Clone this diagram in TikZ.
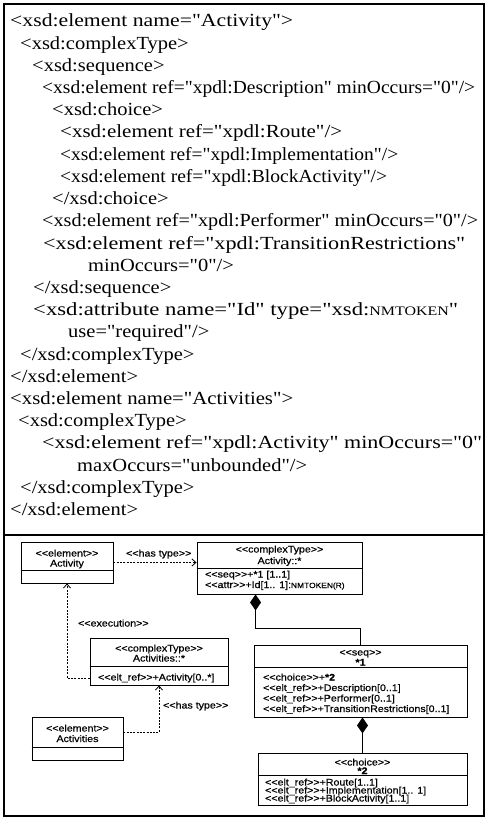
\documentclass[tikz,border=0pt]{standalone}
\usepackage{fontspec}
\usepackage{graphicx}
\usetikzlibrary{arrows.meta,calc}
\newfontfamily\codefont{Liberation Serif}[FakeStretch=1.108]
\newfontfamily\umlfont{Liberation Sans}[FakeStretch=1.12,FakeBold=0.6]
% stereotype brackets kept as two separate angle signs
\newcommand\gopen{<\kern0pt<}
\newcommand\gclose{>\kern0pt>}
\newcommand\nmtk{\fontsize{13}{13}\selectfont}
\newlength\codewd
% one line of the schema listing: name, left x, row, text
\newcommand\codeline[4]{%
  \node[codetext] (#1) at (#2,{27+22.2*(#3-1)}) {#4};}
% same, stretched so that the line ends at a given x
\newcommand\codefit[5]{%
  \node[codetext] (#1) at (#2,{27+22.2*(#3-1)})
    {\settowidth\codewd{#5}%
     \pgfmathsetmacro\codesx{(#4-#2)/\codewd}%
     \scalebox{\codesx}[1]{#5}};}

\tikzset{
  codetext/.style={anchor=base west, inner sep=0pt,
    font=\codefont\fontsize{18.5}{22}\selectfont},
  umlbox/.style={draw, line width=0.9pt, fill=white, inner sep=0pt},
  umlline/.style={line width=0.9pt},
  umltxt/.style={inner sep=0pt, font=\umlfont\fontsize{9.5}{10}\selectfont},
  dep/.style={line width=0.8pt, dash pattern=on 2pt off 1.3pt,
    -{Straight Barb[length=4pt,width=7pt]}},
  comp/.style={line width=1pt, -{Diamond[length=16pt,width=11pt]}},
}

\begin{document}
\begin{tikzpicture}[x=1pt,y=-1pt]
\useasboundingbox (0,0) rectangle (487,818);
\fill[white] (0,0) rectangle (487,818);

% outer frame and separator
\draw[line width=1.3pt] (4,4) rectangle (484,816);
\draw[line width=1.3pt] (4,535) -- (484,535);

% ---------- schema listing ----------
\codefit{l1}{10}{1}{293}{<xsd:element name="Activity">}
\codeline{l2}{20}{2}{<xsd:complexType>}
\codeline{l3}{32}{3}{<xsd:sequence>}
\codefit{l4}{42}{4}{475}{<xsd:element ref="xpdl:Description" minOccurs="0"/>}
\codeline{l5}{52}{5}{<xsd:choice>}
\codefit{l6}{60}{6}{342}{<xsd:element ref="xpdl:Route"/>}
\codefit{l7}{60}{7}{398}{<xsd:element ref="xpdl:Implementation"/>}
\codefit{l8}{60}{8}{387}{<xsd:element ref="xpdl:BlockActivity"/>}
\codeline{l9}{52}{9}{</xsd:choice>}
\codefit{l10}{42}{10}{478}{<xsd:element ref="xpdl:Performer" minOccurs="0"/>}
\codefit{l11}{43}{11}{465}{<xsd:element ref="xpdl:TransitionRestrictions"}
\codeline{l12}{88}{12}{minOccurs="0"/>}
\codeline{l13}{33}{13}{</xsd:sequence>}
\codefit{l14}{33}{14}{458}{<xsd:attribute name="Id" type="xsd:{\nmtk NMTOKEN}"}
\codeline{l15}{68}{15}{use="required"/>}
\codeline{l16}{20}{16}{</xsd:complexType>}
\codeline{l17}{10}{17}{</xsd:element>}
\codefit{l18}{10}{18}{293}{<xsd:element name="Activities">}
\codeline{l19}{18}{19}{<xsd:complexType>}
\codefit{l20}{42}{20}{482}{<xsd:element ref="xpdl:Activity" minOccurs="0"}
\codeline{l21}{77}{21}{maxOccurs="unbounded"/>}
\codeline{l22}{20}{22}{</xsd:complexType>}
\codeline{l23}{10}{23}{</xsd:element>}

% ---------- class boxes ----------
% element Activity
\node[umlbox, minimum width=92pt, minimum height=41pt] (A) at (67,562.5) {};
\draw[umlline] ([yshift=-29pt]A.north west) -- ([yshift=-29pt]A.north east);
\node[umltxt, anchor=base] (At1) at (67,556.5) {\gopen element\gclose};
\node[umltxt, anchor=base] (At2) at (67,566.5) {Activity};

% complexType Activity::*
\node[umlbox, minimum width=165pt, minimum height=52pt] (B) at (279.5,568) {};
\draw[umlline] ([yshift=-26.5pt]B.north west) -- ([yshift=-26.5pt]B.north east);
\node[umltxt, anchor=base] (Bt1) at (279.5,552.5) {\gopen complexType\gclose};
\node[umltxt, anchor=base] (Bt2) at (279.5,564) {Activity::*};
\node[umltxt, anchor=base west] (Bc1) at (205,577.5) {\gopen seq\gclose+*1 [1..1]};
\node[umltxt, anchor=base west] (Bc2) at (205,588) {\gopen attr\gclose+Id[1.. 1]:{\fontsize{7.5}{8}\selectfont NMTOKEN(R)}};

% complexType Activities::*
\node[umlbox, minimum width=138pt, minimum height=47pt] (C) at (159,661.5) {};
\draw[umlline] ([yshift=-29pt]C.north west) -- ([yshift=-29pt]C.north east);
\node[umltxt, anchor=base] (Ct1) at (159,651.5) {\gopen complexType\gclose};
\node[umltxt, anchor=base] (Ct2) at (159,661.5) {Activities::*};
\node[umltxt, anchor=base west] (Cc1) at (98,680.5) {\gopen elt\_ref\gclose+Activity[0..*]};

% element Activities
\node[umlbox, minimum width=91pt, minimum height=43pt] (D) at (77.5,738.5) {};
\draw[umlline] ([yshift=-31pt]D.north west) -- ([yshift=-31pt]D.north east);
\node[umltxt, anchor=base] (Dt1) at (77.5,731.5) {\gopen element\gclose};
\node[umltxt, anchor=base] (Dt2) at (77.5,742) {Activities};

% sequence *1
\node[umlbox, minimum width=213pt, minimum height=72pt] (E) at (360.5,681) {};
\draw[umlline] ([yshift=-23pt]E.north west) -- ([yshift=-23pt]E.north east);
\node[umltxt, anchor=base] (Et1) at (360.5,655.5) {\gopen seq\gclose};
\node[umltxt, anchor=base] (Et2) at (360.5,665.5) {\bfseries *1};
\node[umltxt, anchor=base west] (Ec1) at (263,680.5) {\gopen choice\gclose+{\bfseries *2}};
\node[umltxt, anchor=base west] (Ec2) at (263,691) {\gopen elt\_ref\gclose+Description[0..1]};
\node[umltxt, anchor=base west] (Ec3) at (263,701.5) {\gopen elt\_ref\gclose+Performer[0..1]};
\node[umltxt, anchor=base west] (Ec4) at (263,712) {\gopen elt\_ref\gclose+TransitionRestrictions[0..1]};

% choice *2
\node[umlbox, minimum width=209pt, minimum height=52pt] (F) at (362.5,779) {};
\draw[umlline] ([yshift=-23pt]F.north west) -- ([yshift=-23pt]F.north east);
\node[umltxt, anchor=base] (Ft1) at (362.5,765.5) {\gopen choice\gclose};
\node[umltxt, anchor=base] (Ft2) at (362.5,774) {\bfseries *2};
\node[umltxt, anchor=base west] (Fc1) at (265,785.5) {\gopen elt\_ref\gclose+Route[1..1]};
\node[umltxt, anchor=base west] (Fc2) at (265,793.5) {\gopen elt\_ref\gclose+Implementation[1.. 1]};
\node[umltxt, anchor=base west] (Fc3) at (265,801.5) {\gopen elt\_ref\gclose+BlockActivity[1..1]};

% ---------- relations ----------
\draw[dep] (A.east) -- (A.east -| B.west);
\node[umltxt, anchor=base west] (lbl1) at (126,556.5) {\gopen has type\gclose};

\draw[dep] (C.west |- Cc1) -| (A.south);
\node[umltxt, anchor=base west] (lbl2) at (78,626.5) {\gopen execution\gclose};

\draw[dep] ($(D.east)+(0,-6)$) -| (C.south);
\node[umltxt, anchor=base west] (lbl3) at (163,708.5) {\gopen has type\gclose};

\coordinate (Bk) at ($(B.south west)+(59,0)$);
\draw[comp] (E.north) -- ++(0,-16) -| (Bk);
\draw[comp] (F.north) -- (F.north |- E.south);
\end{tikzpicture}
\end{document}
